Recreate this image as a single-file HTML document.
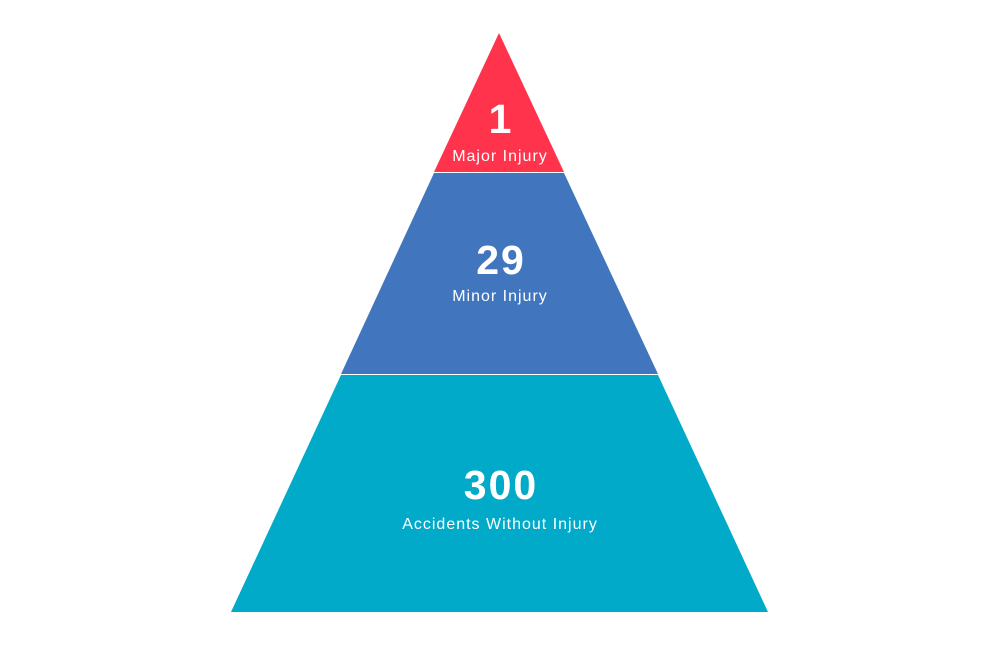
<!DOCTYPE html>
<html><head><meta charset="utf-8"><style>
html,body{margin:0;padding:0;background:#fff;width:1000px;height:667px;overflow:hidden}
text{font-family:"Liberation Sans",sans-serif;fill:#fff;text-anchor:middle}
.n{font-weight:bold;font-size:41px;letter-spacing:2px}
.l{font-size:16px;letter-spacing:1px}
</style></head><body>
<svg width="1000" height="667" viewBox="0 0 1000 667">
<polygon points="499,33 564,172 434,172" fill="#FF334B"/>
<polygon points="434,173 564,173 658,374 341,374" fill="#4175BD"/>
<polygon points="341,375 658,375 768,612 231,612" fill="#00AAC8"/>
<text class="n" x="501" y="133">1</text>
<text class="l" x="500" y="161">Major Injury</text>
<text class="n" x="501" y="274">29</text>
<text class="l" x="500" y="301">Minor Injury</text>
<text class="n" x="501" y="499">300</text>
<text class="l" x="500" y="529">Accidents Without Injury</text>
</svg>
</body></html>
